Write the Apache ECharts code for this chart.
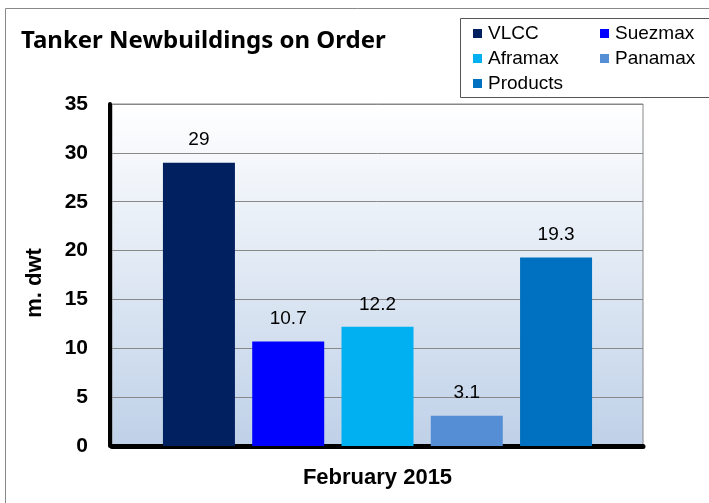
<!DOCTYPE html>
<html>
<head>
<meta charset="utf-8">
<script src="https://cdn.jsdelivr.net/npm/echarts@6/dist/echarts.min.js"></script>
<style>
  html, body { margin: 0; padding: 0; background: #fff; }
  #chart { width: 709px; height: 503px; }
</style>
</head>
<body>
<div id="chart"></div>
<script>
// data
const categories = ['February 2015']
const seriesNames = ['VLCC', 'Suezmax', 'Aframax', 'Panamax', 'Products']
const seriesValues = [29, 10.7, 12.2, 3.1, 19.3]
const seriesColors = ['#002060', '#0000ff', '#00b0f0', '#558ed5', '#0070c0']
const legendLeftCol = ['VLCC', 'Aframax', 'Products']
const legendRightCol = ['Suezmax', 'Panamax']

const chart = echarts.init(document.getElementById('chart'))

const labelFont = 'Liberation Sans, Arial, sans-serif'

const series = seriesNames.map((name, i) => ({
  name,
  type: 'bar',
  data: [seriesValues[i]],
  barWidth: 72,
  barGap: '24%',
  itemStyle: { color: seriesColors[i] },
  label: {
    show: true,
    position: 'top',
    distance: 13,
    color: '#000',
    fontFamily: labelFont,
    fontSize: 19
  }
}))

const legendBase = {
  orient: 'vertical',
  top: 24,
  padding: 0,
  itemGap: 6,
  itemWidth: 9,
  itemHeight: 9,
  icon: 'rect',
  textStyle: { fontFamily: labelFont, fontSize: 19, color: '#000', padding: [0, 0, 0, 1] }
}

chart.setOption({
  animation: false,
  title: {
    text: 'Tanker Newbuildings on Order',
    left: 21,
    top: 29,
    padding: 0,
    textStyle: { fontFamily: 'Noto Sans, sans-serif', fontWeight: 'bold', fontSize: 24, color: '#000' }
  },
  legend: [
    { ...legendBase, left: 473, data: legendLeftCol },
    { ...legendBase, left: 600, data: legendRightCol }
  ],
  graphic: [
    { type: 'rect', shape: { x: 5.5, y: 8.5, width: 800, height: 600 }, style: { fill: 'none', stroke: '#888', lineWidth: 1 }, z: -1 },
    { type: 'rect', shape: { x: 460.5, y: 18.5, width: 300, height: 79 }, style: { fill: 'none', stroke: '#555', lineWidth: 1 } }
  ],
  grid: {
    left: 112,
    right: 66,
    top: 104,
    bottom: 57,
    show: true,
    borderColor: '#888',
    borderWidth: 1,
    backgroundColor: new echarts.graphic.LinearGradient(0, 0, 0, 1, [
      { offset: 0, color: '#ffffff' },
      { offset: 1, color: '#bfd1e8' }
    ])
  },
  xAxis: {
    type: 'category',
    data: categories,
    offset: 2,
    axisTick: { show: false },
    axisLine: { lineStyle: { color: '#000', width: 5 } },
    axisLabel: {
      margin: 19,
      color: '#000',
      fontFamily: labelFont,
      fontWeight: 'bold',
      fontSize: 22
    }
  },
  yAxis: {
    type: 'value',
    min: 0,
    max: 35,
    interval: 5,
    offset: 2,
    name: 'm. dwt',
    nameLocation: 'middle',
    nameRotate: 90,
    nameGap: 64,
    nameTextStyle: { color: '#000', fontFamily: labelFont, fontWeight: 'bold', fontSize: 22, padding: [0, 16, 0, 0] },
    axisLine: { show: true, lineStyle: { color: '#000', width: 4 } },
    axisTick: { show: false },
    axisLabel: {
      margin: 22,
      color: '#000',
      fontFamily: labelFont,
      fontWeight: 'bold',
      fontSize: 21
    },
    splitLine: { lineStyle: { color: '#888', width: 1 } }
  },
  series
})
</script>
</body>
</html>
